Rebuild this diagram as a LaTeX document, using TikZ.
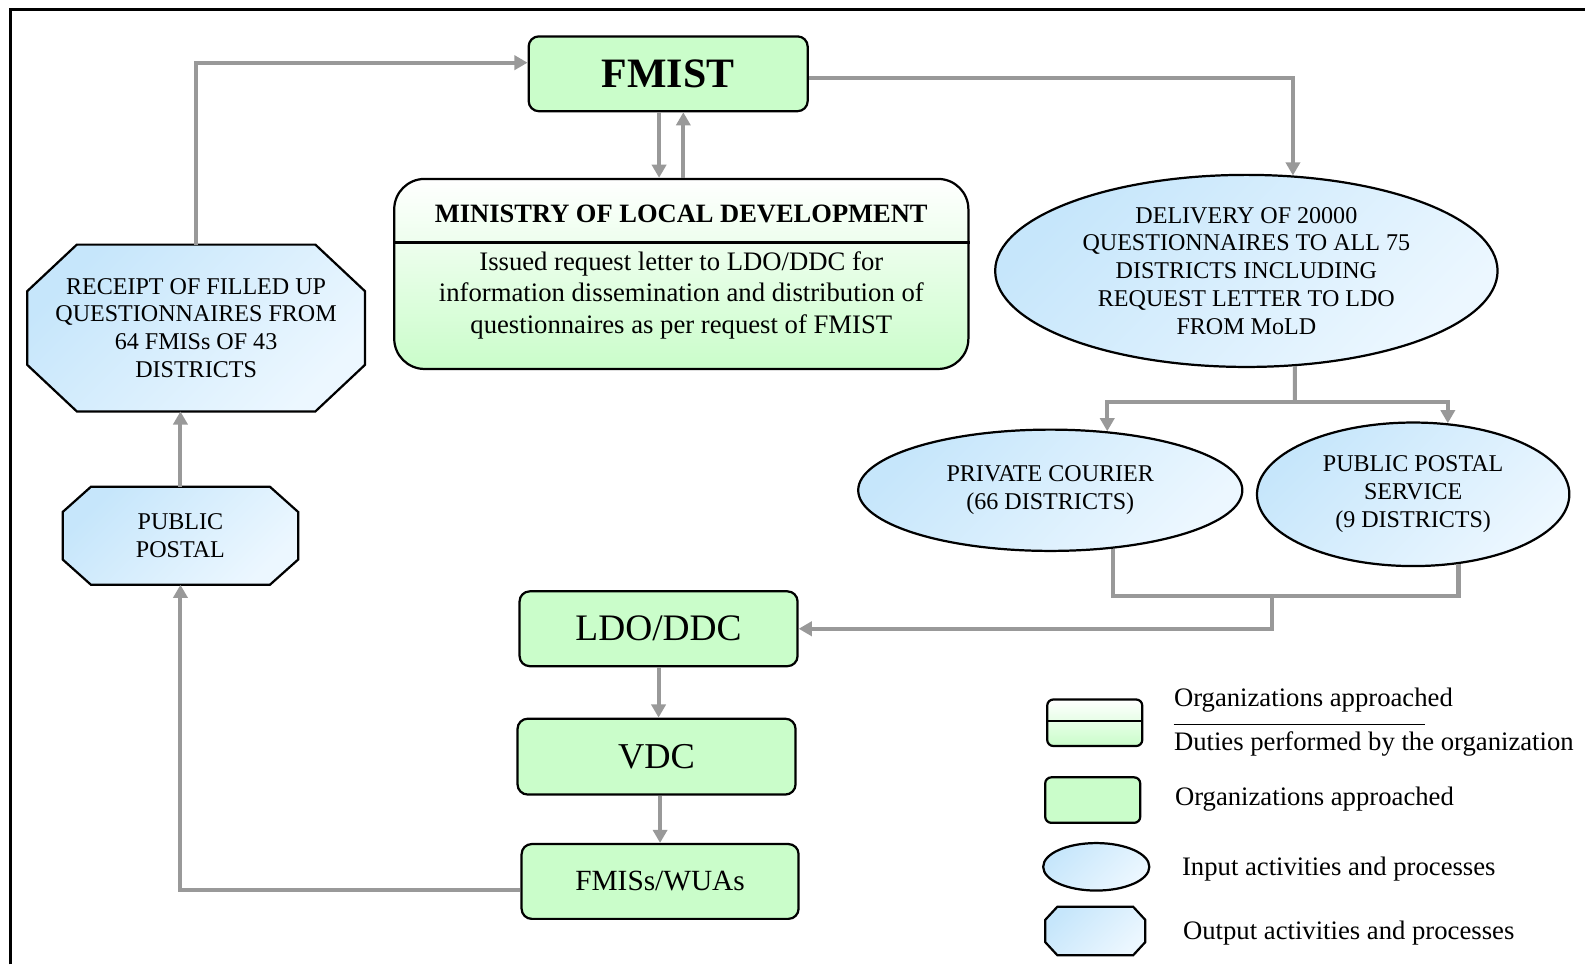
\documentclass[tikz,border=0pt]{standalone}
\usepackage{fontspec}
\setmainfont{Liberation Serif}
\usetikzlibrary{shapes.geometric,arrows.meta,backgrounds}

\definecolor{boxgreen}{RGB}{202,253,202}
\definecolor{blueA}{RGB}{198,230,251}
\definecolor{blueB}{RGB}{236,247,255}
\definecolor{linegray}{RGB}{153,153,153}

% octagon around a text node: node, x cut, y cut (y runs downwards)
\newcommand{\octagonpath}[3]{([xshift=#2]#1.north west) -- ([xshift=-#2]#1.north east) -- ([yshift=#3]#1.north east) -- ([yshift=-#3]#1.south east) -- ([xshift=-#2]#1.south east) -- ([xshift=#2]#1.south west) -- ([yshift=-#3]#1.south west) -- ([yshift=#3]#1.north west) -- cycle}

\begin{document}
\begin{tikzpicture}[x=0.5pt,y=0.5pt,yscale=-1,xscale=1,
  >={Triangle[length=6.5pt,width=7pt]},
  orgbox/.style={draw, line width=1.1pt, rounded corners=5pt, fill=boxgreen, inner sep=0pt},
  dutybox/.style={draw, line width=1.1pt, top color=white, bottom color=boxgreen, inner sep=0pt},
  inshape/.style={ellipse, draw, line width=1.1pt, top color=blueA, bottom color=blueB, shading angle=45, inner sep=0pt, align=center, font=\fontsize{11.9}{13.75}\selectfont},
  outtext/.style={rectangle, inner sep=0pt, outer sep=0pt, align=center, font=\fontsize{11.9}{13.75}\selectfont},
  outshape/.style={draw, line width=1.1pt, top color=blueA, bottom color=blueB, shading angle=45},
  conn/.style={draw=linegray, line width=2pt},
  legendtext/.style={anchor=west, inner sep=0pt, font=\fontsize{13.2}{15}\selectfont}]
\useasboundingbox (0,0) rectangle (1568,954);

%Frame
\draw [line width=1.5pt] (10,954) -- (10,9) -- (1568,9);

%Shape: Rounded Rectangle
\node [orgbox, minimum width=138pt, minimum height=37pt, font=\bfseries\fontsize{20.7}{24}\selectfont] (fmist) at (661,73) {FMIST};
%Shape: Rounded Rectangle, split
\node [dutybox, rounded corners=15pt, minimum width=284pt, minimum height=94pt] (mold) at (674,271) {};
\coordinate (moldsplit) at (674,240);
\draw [line width=1.1pt] (mold.west |- moldsplit) -- (mold.east |- moldsplit);
% Text Node
\node [font=\bfseries\fontsize{13.1}{15}\selectfont] (moldtitle) at (674,212) {MINISTRY OF LOCAL DEVELOPMENT};
% Text Node
\node [align=center, font=\fontsize{13.2}{15.5}\selectfont] (moldduty) at (674,292) {Issued request letter to LDO/DDC for\\information dissemination and distribution of\\questionnaires as per request of FMIST};

%Shape: Ellipse
\node [inshape, minimum width=248.5pt, minimum height=95pt] (delivery) at (1233,268) {DELIVERY OF 20000\\QUESTIONNAIRES TO ALL 75\\DISTRICTS INCLUDING\\REQUEST LETTER TO LDO\\FROM MoLD};
%Shape: Ellipse
\node [inshape, minimum width=190pt, minimum height=60pt] (courier) at (1039,485) {PRIVATE COURIER\\(66 DISTRICTS)};
%Shape: Ellipse
\node [inshape, minimum width=154.5pt, minimum height=71pt] (postal) at (1398,489) {PUBLIC POSTAL\\SERVICE\\(9 DISTRICTS)};

%Shape: Rounded Rectangle
\node [orgbox, minimum width=137.5pt, minimum height=37pt, font=\fontsize{18.5}{22}\selectfont] (ldo) at (651.5,622) {LDO/DDC};
%Shape: Rounded Rectangle
\node [orgbox, minimum width=137.5pt, minimum height=37.5pt, font=\fontsize{18}{22}\selectfont] (vdc) at (649.5,748.5) {VDC};
%Shape: Rounded Rectangle
\node [orgbox, minimum width=137pt, minimum height=37pt, font=\fontsize{14.5}{17}\selectfont] (fmiss) at (653,872) {FMISs/WUAs};

%Shape: Octagon
\node [outtext, minimum width=116.5pt, minimum height=48.5pt] (pubpostal) at (178.5,530) {PUBLIC\\POSTAL};
%Shape: Octagon
\node [outtext, minimum width=167pt, minimum height=82.5pt] (receipt) at (194,324.5) {RECEIPT OF FILLED UP\\QUESTIONNAIRES FROM\\64 FMISs OF 43\\DISTRICTS};

%Legend
\node [dutybox, rounded corners=3pt, minimum width=47pt, minimum height=23pt] (legduty) at (1083,715) {};
\coordinate (legsplit) at (1083,713);
\draw [line width=1.1pt] (legduty.west |- legsplit) -- (legduty.east |- legsplit);
\node [orgbox, rounded corners=3pt, minimum width=47pt, minimum height=22.5pt] (leggreen) at (1081,791.5) {};
\node [inshape, minimum width=52.5pt, minimum height=23.5pt] (legin) at (1084.5,857.5) {};
\node [outtext, minimum width=49.5pt, minimum height=24pt] (legout) at (1083.5,921) {};

\begin{scope}[on background layer]
\path [outshape] \octagonpath{pubpostal}{14pt}{12.5pt};
\path [outshape] \octagonpath{receipt}{24.5pt}{23pt};
\path [outshape] \octagonpath{legout}{6pt}{6.5pt};
\end{scope}

% Text Node
\node [legendtext] (legorg) at (1161,693) {Organizations approached};
\coordinate (legrule) at (1410,717);
\draw [line width=0.6pt] (legorg.west |- legrule) -- (legrule);
% Text Node
\node [legendtext] (legdutytext) at (1161,736) {Duties performed by the organization};
% Text Node
\node [legendtext] (leggreentext) at (1162,791) {Organizations approached};
% Text Node
\node [legendtext] (legintext) at (1169,860) {Input activities and processes};
% Text Node
\node [legendtext] (legouttext) at (1170,923) {Output activities and processes};

%Straight Lines
\draw [conn,->] ([yshift=2pt]fmist.east) -| (delivery.64);
\draw [conn,->] ([xshift=-4.5pt]fmist.south) -- ([xshift=-4.5pt]fmist.south |- mold.north);
\draw [conn,->] ([xshift=7.5pt]fmist.south |- mold.north) -- ([xshift=7.5pt]fmist.south);
\coordinate (fork) at (1281,398);
\draw [conn] (delivery.-63) -- (fork);
\draw [conn,->] (fork) -| (courier.46);
\draw [conn,->] (fork) -| (postal.64);
\coordinate (merge) at (1258,590);
\draw [conn] (courier.-43) |- (merge);
\draw [conn] (postal.-57) |- (merge);
\draw [conn,->] (merge) |- (ldo.east);
\draw [conn,->] (ldo.south) -- (ldo.south |- vdc.north);
\draw [conn,->] (fmiss.north |- vdc.south) -- (fmiss.north);
\draw [conn,->] ([yshift=4pt]fmiss.west) -| (pubpostal.south);
\draw [conn,->] (pubpostal.north) -- (pubpostal.north |- receipt.south);
\draw [conn,->] (receipt.north) |- ([yshift=-5.5pt]fmist.west);

\end{tikzpicture}
\end{document}
